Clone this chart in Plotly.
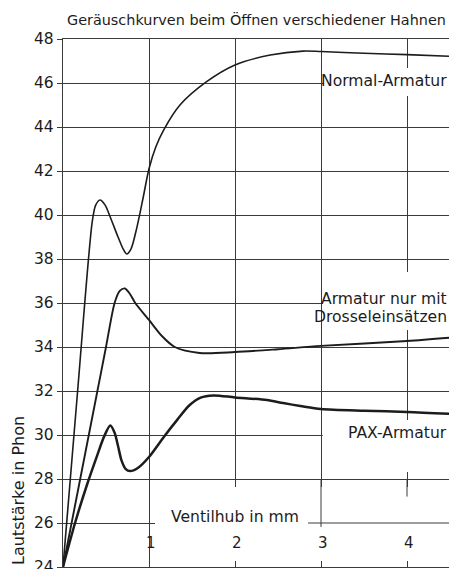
import plotly.graph_objects as go

# ---- data ----
normal_x = [0, 0.17, 0.34, 0.38, 0.43, 0.49, 0.55, 0.64, 0.70, 0.74, 0.79, 0.86, 0.93, 1.00, 1.08, 1.17, 1.36, 1.67, 2.00, 2.41, 2.79, 3.00, 3.50, 4.00, 4.58]
normal_y = [24, 32.0, 39.7, 40.45, 40.68, 40.45, 39.9, 39.0, 38.45, 38.23, 38.45, 39.45, 40.75, 42.1, 43.1, 43.86, 45.0, 46.06, 46.82, 47.27, 47.45, 47.43, 47.35, 47.29, 47.2]

drossel_x = [0, 0.40, 0.50, 0.60, 0.66, 0.72, 0.78, 0.84, 1.00, 1.15, 1.30, 1.59, 2.00, 2.50, 3.00, 4.00, 4.58]
drossel_y = [24, 32.0, 34.0, 36.0, 36.55, 36.66, 36.4, 36.0, 35.23, 34.5, 34.0, 33.73, 33.77, 33.9, 34.05, 34.27, 34.45]

pax_x = [0, 0.14, 0.28, 0.40, 0.48, 0.55, 0.60, 0.64, 0.68, 0.73, 0.78, 0.87, 1.00, 1.17, 1.33, 1.47, 1.60, 1.75, 2.00, 2.37, 2.56, 2.76, 3.00, 3.50, 4.00, 4.58]
pax_y = [24, 26.0, 27.75, 29.1, 29.95, 30.43, 30.1, 29.5, 28.85, 28.45, 28.36, 28.5, 29.0, 29.9, 30.7, 31.35, 31.7, 31.8, 31.71, 31.59, 31.45, 31.32, 31.18, 31.1, 31.05, 30.95]

y_ticks = [24, 26, 28, 30, 32, 34, 36, 38, 40, 42, 44, 46, 48]
x_ticks = [1, 2, 3, 4]
x_tick_labels = ["1", "2", "3", "4"]

title = "Geräuschkurven beim Öffnen verschiedener Hahnen"
y_title = "Lautstärke in Phon"
x_title = "Ventilhub in mm"
label_normal = "Normal-Armatur"
label_drossel = ["Armatur nur mit", "Drosseleinsätzen"]
label_pax = "PAX-Armatur"

FONT = "DejaVu Sans"
INK = "#1c1c1c"
GRID = "#3a3a3a"
X_MAX = 386 / 86  # visible part of the abscissa

fig = go.Figure()
for xs, ys, w in [(normal_x, normal_y, 1.6), (drossel_x, drossel_y, 1.9), (pax_x, pax_y, 2.5)]:
    fig.add_trace(go.Scatter(x=xs, y=ys, mode="lines",
                             line=dict(color=INK, width=w, shape="spline", smoothing=0.8),
                             showlegend=False, hoverinfo="skip"))

# white patches hiding the grid behind the labels (as in the printed chart)
covers = [
    (3.03, 4.7, 45.41, 46.68),
    (3.02, 4.7, 34.77, 37.41),
    (3.02, 4.7, 28.32, 30.68),
    (1.07, 4.7, 24.27, 27.64),
]
shapes = []
for x0, x1, y0, y1 in covers:
    shapes.append(dict(type="rect", xref="x", yref="y", x0=x0, x1=x1, y0=y0, y1=y1,
                       fillcolor="white", line=dict(width=0), layer="between"))
# grid pieces that remain visible in the lower area
shapes.append(dict(type="line", xref="x", yref="y", x0=2.85, x1=4.7, y0=26, y1=26,
                   line=dict(color=GRID, width=1), layer="between"))
shapes.append(dict(type="line", xref="x", yref="y", x0=3, x1=3, y0=25.82, y1=28,
                   line=dict(color=GRID, width=1), layer="between"))
shapes.append(dict(type="line", xref="x", yref="y", x0=4, x1=4, y0=27.2, y1=28,
                   line=dict(color=GRID, width=1), layer="between"))

PLOT_TOP, PLOT_BOTTOM = 39, 567  # page pixels of the plot area
PH = PLOT_BOTTOM - PLOT_TOP
LBL = 15.6

def txt(text, x, y, size=LBL, xanchor="right", **kw):
    return dict(text=text, xref="x", yref="y", x=x, y=y, xanchor=xanchor, yanchor="middle",
                showarrow=False, font=dict(family=FONT, size=size, color=INK), **kw)

annotations = [
    dict(text=title, xref="paper", yref="paper", x=0.5, y=(PLOT_BOTTOM - 19) / PH,
         xanchor="center", yanchor="middle", showarrow=False,
         font=dict(family=FONT, size=14.4, color=INK)),
    dict(text=y_title, xref="paper", yref="paper", x=(18 - 63) / 386,
         y=(PLOT_BOTTOM - 491) / PH,
         xanchor="center", yanchor="middle", textangle=-90, showarrow=False,
         font=dict(family=FONT, size=16, color=INK)),
    txt(x_title, 2.0, 26.27, xanchor="center"),
    txt(label_normal, X_MAX, 46.1),
    txt(label_drossel[0], X_MAX, 36.18),
    txt(label_drossel[1], X_MAX, 35.36),
    txt(label_pax, X_MAX, 30.08),
]
for xv, lab in zip(x_ticks, x_tick_labels):
    annotations.append(txt(lab, xv + 0.02, 25.1, size=15, xanchor="center"))

# the page has an 8px body margin and only ~449px of width are visible
fig.update_layout(
    width=441, height=561,
    margin=dict(l=55, r=0, t=31, b=2, autoexpand=False),
    paper_bgcolor="white", plot_bgcolor="white",
    shapes=shapes, annotations=annotations,
    xaxis=dict(range=[0, X_MAX], tickvals=x_ticks, showticklabels=False, ticks="",
               showgrid=True, gridcolor=GRID, gridwidth=1, zeroline=False, automargin=False,
               showline=True, mirror=True, linecolor=GRID, linewidth=1.2),
    yaxis=dict(range=[24, 48], tickvals=y_ticks, ticktext=[str(v) for v in y_ticks],
               ticks="outside", ticklen=5, tickcolor=GRID, ticklabeloverflow="allow",
               automargin=False,
               tickfont=dict(family=FONT, size=15.5, color=INK),
               showgrid=True, gridcolor=GRID, gridwidth=1, zeroline=False,
               showline=True, linecolor=GRID, linewidth=1.4),
)

fig.write_html("out.html")
